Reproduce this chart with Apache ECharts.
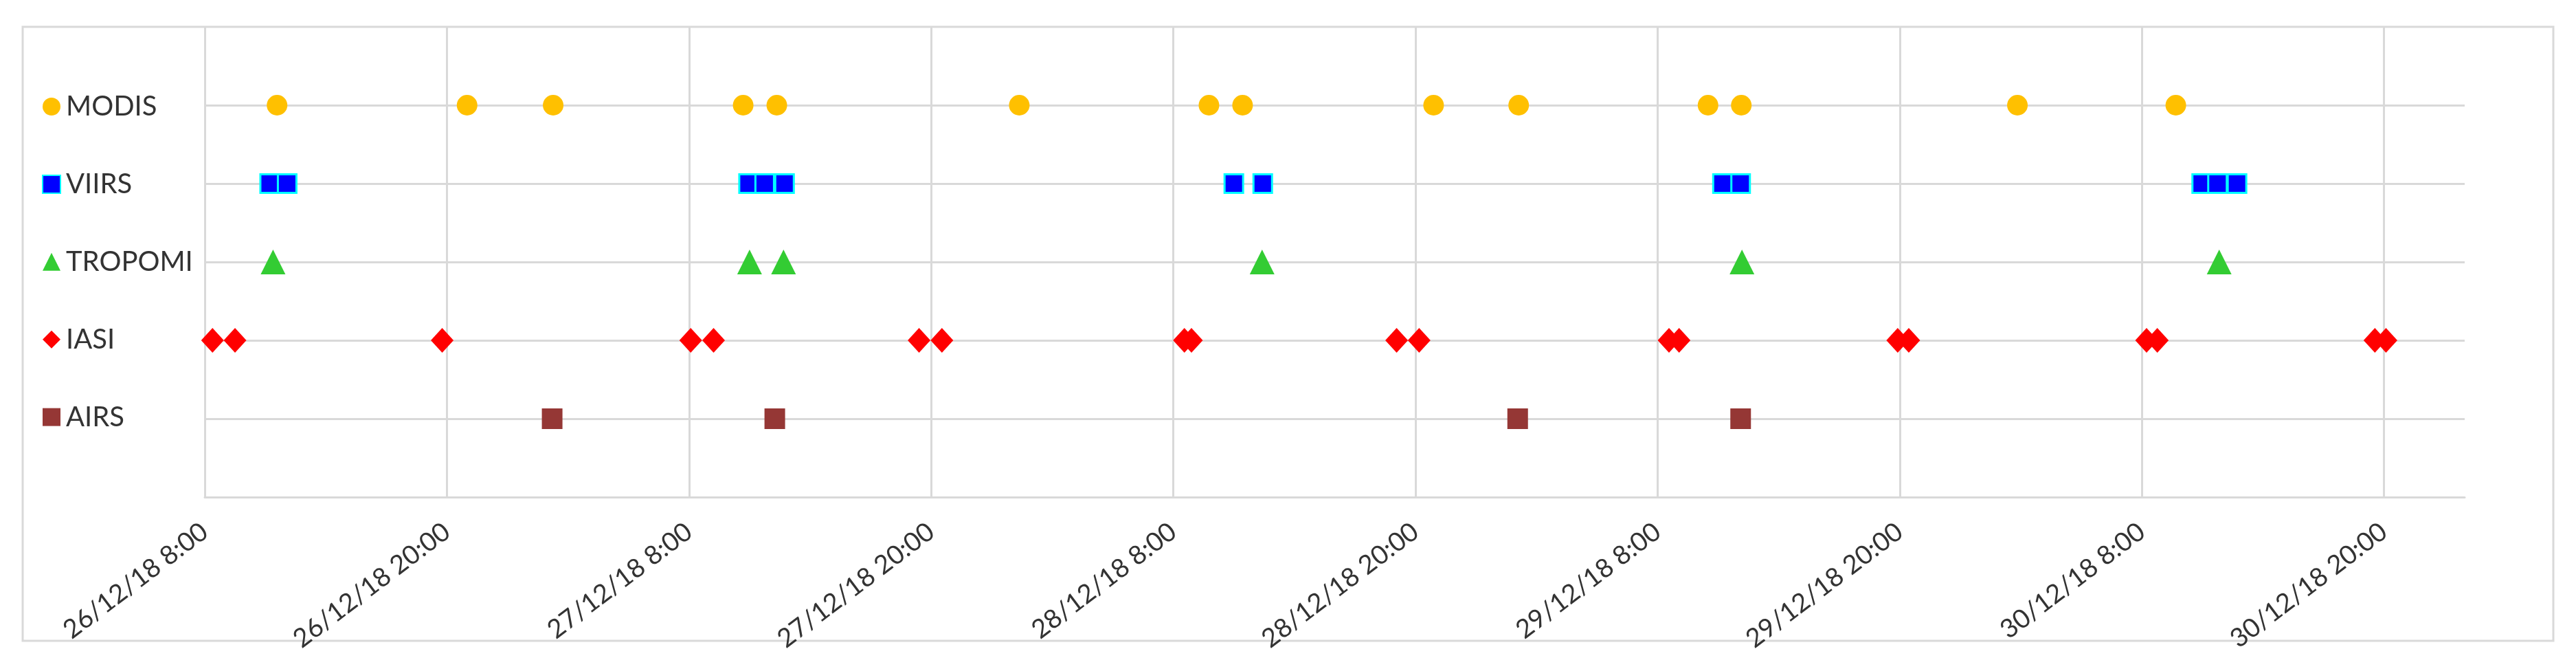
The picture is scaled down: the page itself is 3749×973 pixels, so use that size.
<!DOCTYPE html>
<html>
<head>
<meta charset="utf-8">
<script src="https://cdn.jsdelivr.net/npm/echarts@6.0.0/dist/echarts.min.js"></script>
<style>
  html, body { margin: 0; padding: 0; background: #fff; }
  #chart { width: 3749px; height: 973px; }
</style>
</head>
<body>
<div id="chart"></div>
<script>
// rows of the chart, top to bottom
var sensors = ['MODIS', 'VIIRS', 'TROPOMI', 'IASI', 'AIRS'];

// overpass times, day/month hh:mm (year 2018)
var modisTimes = ['26/12 11:35', '26/12 21:00', '27/12 01:16', '27/12 10:41', '27/12 12:21',
  '28/12 00:22', '28/12 09:46', '28/12 11:26', '28/12 20:54', '29/12 01:07',
  '29/12 10:30', '29/12 12:09', '30/12 01:50', '30/12 09:41'];
var viirsTimes = ['26/12 11:13', '26/12 12:05', '27/12 10:57', '27/12 11:45', '27/12 12:44',
  '28/12 11:00', '28/12 12:26', '29/12 11:13', '29/12 12:07',
  '30/12 10:58', '30/12 11:45', '30/12 12:43'];
var tropomiTimes = ['26/12 11:23', '27/12 11:00', '27/12 12:41', '28/12 12:24', '29/12 12:11', '30/12 11:50'];
var iasiTimes = ['26/12 08:23', '26/12 09:30', '26/12 19:46', '27/12 08:05', '27/12 09:13',
  '27/12 19:24', '27/12 20:32', '28/12 08:33', '28/12 08:54', '28/12 19:04', '28/12 20:11',
  '29/12 08:34', '29/12 09:04', '29/12 19:54', '29/12 20:27', '30/12 08:14', '30/12 08:46',
  '30/12 19:33', '30/12 20:06'];
var airsTimes = ['27/12 01:13', '27/12 12:15', '29/12 01:04', '29/12 12:07'];

// x axis tick labels, every 12 hours from 26/12/18 8:00
var tickLabels = ['26/12/18 8:00', '26/12/18 20:00', '27/12/18 8:00', '27/12/18 20:00',
  '28/12/18 8:00', '28/12/18 20:00', '29/12/18 8:00', '29/12/18 20:00',
  '30/12/18 8:00', '30/12/18 20:00'];

var startDay = 26, startHour = 8;

// hours elapsed since 26/12/18 8:00
function toHours(s) {
  var parts = s.split(' ');
  var day = +parts[0].split('/')[0];
  var hm = parts[1].split(':');
  return (day - startDay) * 24 + (+hm[0]) - startHour + (+hm[1]) / 60;
}

function rowData(times, row) {
  return times.map(function(t) { return [toHours(t), row]; });
}

var dom = document.getElementById('chart');
var myChart = echarts.init(dom, null, { renderer: 'canvas' });
var gridColor = '#d9d9d9';
var textColor = '#333333';

var option = {
  backgroundColor: '#ffffff',
  animation: false,
  textStyle: { fontFamily: 'Lato' },
  graphic: [{
    type: 'rect',
    shape: { x: 33, y: 39, width: 3683, height: 893 },
    style: { fill: 'none', stroke: gridColor, lineWidth: 3 },
    z: -1
  }],
  grid: {
    left: 298,
    right: 162,
    top: 39,
    bottom: 250
  },
  legend: {
    orient: 'vertical',
    left: 61,
    top: 135,
    padding: 0,
    itemWidth: 26,
    itemHeight: 26,
    itemGap: 72.9,
    selectedMode: false,
    textStyle: {
      fontFamily: 'Lato',
      fontSize: 40,
      color: textColor,
      padding: [0, 0, 0, 3]
    },
    data: sensors
  },
  xAxis: {
    type: 'value',
    min: 0,
    max: 112,
    interval: 12,
    axisLine: { show: true, lineStyle: { color: gridColor, width: 3 } },
    axisTick: { show: false },
    splitLine: { show: true, showMaxLine: false, lineStyle: { color: gridColor, width: 3 } },
    axisLabel: {
      rotate: 37,
      margin: 46,
      fontFamily: 'Lato',
      fontSize: 38,
      color: textColor,
      showMaxLabel: false,
      formatter: function(v) {
        var label = tickLabels[Math.round(v / 12)];
        return (v % 12 === 0 && label) ? label : '';
      }
    }
  },
  yAxis: {
    type: 'value',
    min: 0,
    max: 6,
    interval: 1,
    axisLine: { show: false },
    axisTick: { show: false },
    axisLabel: { show: false },
    splitLine: { show: true, showMinLine: false, showMaxLine: false, lineStyle: { color: gridColor, width: 3 } }
  },
  series: [{
      name: 'MODIS',
      type: 'scatter',
      symbol: 'circle',
      symbolSize: 30,
      itemStyle: { color: '#ffc000', opacity: 1 },
      data: rowData(modisTimes, 5)
    },
    {
      name: 'VIIRS',
      type: 'scatter',
      symbol: 'rect',
      symbolSize: 27,
      itemStyle: { color: '#0000ff', borderColor: '#00ffff', borderWidth: 3, opacity: 1 },
      data: rowData(viirsTimes, 4)
    },
    {
      name: 'TROPOMI',
      type: 'scatter',
      symbol: 'triangle',
      symbolSize: [36, 36],
      itemStyle: { color: '#33cc33', opacity: 1 },
      data: rowData(tropomiTimes, 3)
    },
    {
      name: 'IASI',
      type: 'scatter',
      symbol: 'diamond',
      symbolSize: [33, 36],
      itemStyle: { color: '#ff0000', opacity: 1 },
      data: rowData(iasiTimes, 2)
    },
    {
      name: 'AIRS',
      type: 'scatter',
      symbol: 'rect',
      symbolSize: 30,
      itemStyle: { color: '#953735', opacity: 1 },
      data: rowData(airsTimes, 1)
    }
  ]
};

if (option && typeof option === 'object') {
  myChart.setOption(option, true);
}
</script>
</body>
</html>
